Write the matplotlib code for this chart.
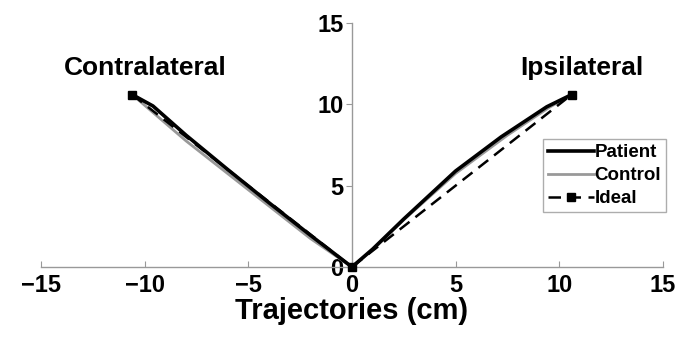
import matplotlib
matplotlib.use('Agg')
import matplotlib.pyplot as plt
import numpy as np

plt.rcParams['font.family'] = ['Liberation Sans', 'DejaVu Sans']
plt.rcParams['font.weight'] = 'bold'

# trajectories: contralateral end -> origin -> ipsilateral end
patient_x = [-10.6, -9.6, -8.0, -6.0, -4.0, -2.0, 0.0, 1.0, 2.5, 5.0, 7.2, 9.4, 10.6]
patient_y = [10.6, 9.9, 8.1, 6.0, 3.95, 1.95, 0.0, 1.1, 2.95, 5.9, 8.0, 9.85, 10.6]
control_x = [-10.6, -8.0, -5.0, -2.0, 0.0, 1.0, 2.5, 5.0, 7.5, 9.5, 10.6]
control_y = [10.6, 7.75, 4.75, 1.75, 0.0, 1.05, 2.9, 5.75, 8.1, 9.8, 10.6]
ideal_x = [-10.6, 0.0, 10.6]
ideal_y = [10.6, 0.0, 10.6]

xticks = [-15, -10, -5, 0, 5, 10, 15]
yticks = [0, 5, 10, 15]

fig = plt.figure(figsize=(6.91, 3.41), dpi=100)
ax = fig.add_axes([0.0593, 0.217, 0.900, 0.7155])

ax.plot(patient_x, patient_y, color='black', lw=2.6, label='Patient', clip_on=False, zorder=3)
ax.plot(control_x, control_y, color='#999999', lw=2.0, label='Control', clip_on=False, zorder=2)
ax.plot(ideal_x, ideal_y, color='black', lw=1.8, ls=(0, (5, 3)), marker='s', ms=6,
        label='Ideal', clip_on=False, zorder=4)

ax.set_xlim(-15, 15)
ax.set_ylim(0, 15)
ax.set_xticks(xticks)
ax.set_yticks(yticks)

ax.spines['left'].set_position(('data', 0))
ax.spines['top'].set_visible(False)
ax.spines['right'].set_visible(False)
for s in ['left', 'bottom']:
    ax.spines[s].set_color('#999999')
    ax.spines[s].set_linewidth(1.0)

ax.tick_params(axis='x', direction='in', length=4, color='#999999', labelsize=17, pad=5)
ax.tick_params(axis='y', direction='out', length=4, color='#999999', labelsize=17, pad=2)
for lab in ax.get_xticklabels() + ax.get_yticklabels():
    lab.set_fontweight('bold')

ax.set_xlabel('Trajectories (cm)', fontsize=21, fontweight='bold', labelpad=0)

ax.text(-9.96, 11.83, 'Contralateral', fontsize=19, fontweight='bold', ha='center', va='baseline')
ax.text(11.08, 11.83, 'Ipsilateral', fontsize=19, fontweight='bold', ha='center', va='baseline')

leg = ax.legend(loc='upper left', bbox_to_anchor=(0.807, 0.523), fontsize=13.5, frameon=True,
                fancybox=False, handlelength=2.5, handletextpad=0.0, borderpad=0.25,
                labelspacing=0.32, borderaxespad=0)
leg.get_frame().set_edgecolor('#999999')
leg.get_frame().set_linewidth(1.0)
for t in leg.get_texts():
    t.set_fontweight('bold')

fig.savefig('out.png', dpi=100)
